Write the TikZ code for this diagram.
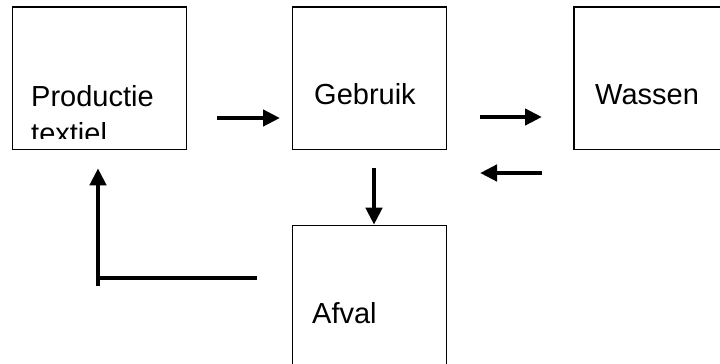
\documentclass[tikz,border=0pt]{standalone}
\usepackage{fontspec}
\setmainfont{Liberation Sans}
\usetikzlibrary{arrows.meta}
\begin{document}
\begin{tikzpicture}[x=1pt,y=-1pt,>={Triangle[length=17pt,width=16pt]}, font=\fontsize{29}{37}\selectfont]
\tikzset{box/.style={draw,line width=1.5pt,rectangle,inner sep=0pt,anchor=north west},
	pijl/.style={line width=4.8pt}}
\def\ytop{6.3} \def\hblok{142.4}
\useasboundingbox (0,0) rectangle (720,364);
% blokken
\node[box,minimum width=174pt,minimum height=\hblok pt] (productie) at (11.7,\ytop) {};
\node[box,minimum width=154pt,minimum height=\hblok pt] (gebruik) at (291.7,\ytop) {};
\node[box,minimum width=160pt,minimum height=\hblok pt] (wassen) at (573,\ytop) {};
\node[box,minimum width=154pt,minimum height=146pt] (afval) at (291.7,224.7) {};
% teksten
\begin{scope}
\clip (12,7) rectangle (185,138);
\node[anchor=base west,inner sep=0pt,align=left] (tprod) at (31,143) {Productie\\textiel};
\end{scope}
\node[anchor=base west,inner sep=0pt] (tgebr) at (314,104.3) {Gebruik};
\node[anchor=base west,inner sep=0pt] (twas) at (595,104.3) {Wassen};
\node[anchor=base west,inner sep=0pt] (tafv) at (312,323.3) {Afval};
% pijlen
\coordinate (p1) at (217,118); \coordinate (p2) at (280,118);
\coordinate (w1) at (480,117); \coordinate (w2) at (542,117);
\coordinate (t1) at (542,173); \coordinate (t2) at (480,173);
\coordinate (n1) at (374,168);
\coordinate (l1) at (257,278); \coordinate (l2) at (98,278);
\coordinate (l3) at (98,285.7); \coordinate (l4) at (98,168.3);
\draw[pijl,->] (p1)--(p2);
\draw[pijl,->] (w1)--(w2);
\draw[pijl,->] (t1)--(t2);
\draw[pijl,->] (n1)--(n1 |- afval.north);
\draw[pijl] (l1)--(l2);
\draw[pijl,->] (l3)--(l4);
\end{tikzpicture}
\end{document}
